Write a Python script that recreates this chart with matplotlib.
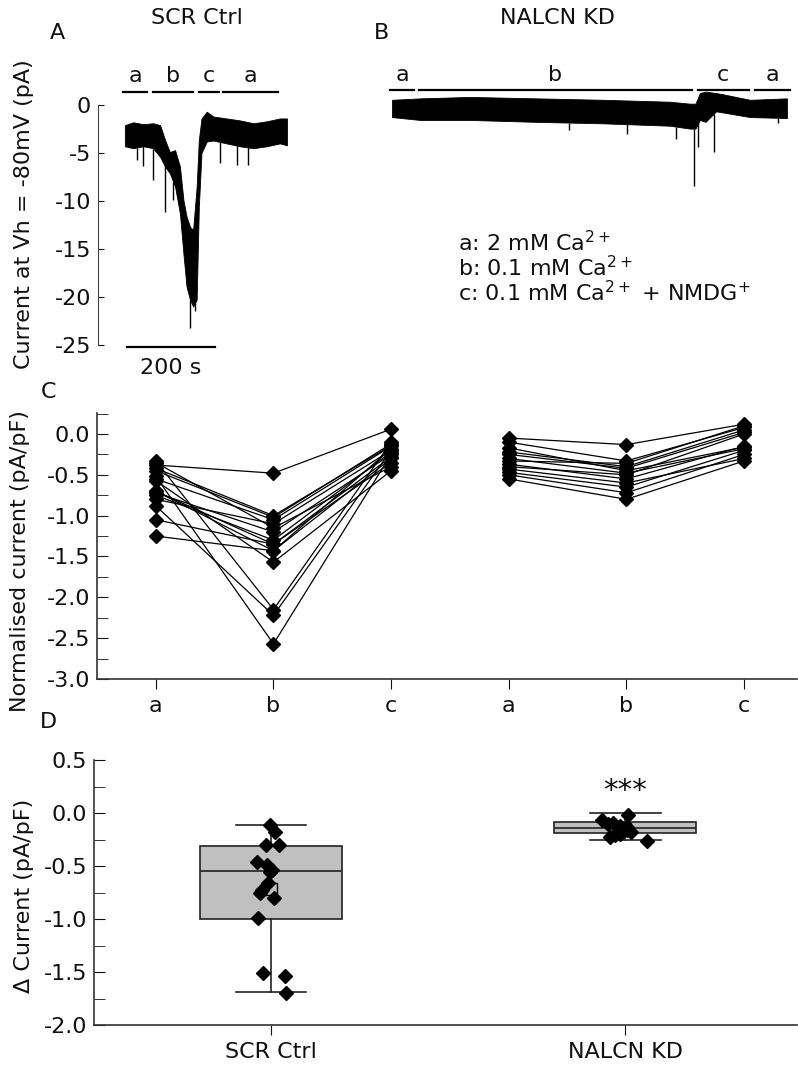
import numpy as np
import matplotlib
matplotlib.use("Agg")
import matplotlib.pyplot as plt
from matplotlib.ticker import MultipleLocator, FormatStrFormatter

plt.rcParams["font.family"] = ["DejaVu Sans"]
plt.rcParams["axes.unicode_minus"] = False
plt.rcParams["mathtext.default"] = "regular"

# ---- panel A: SCR Ctrl trace (envelope, pA vs s) ----
a_t = [0, 19, 42, 64, 80, 91, 102, 114, 125, 133, 140, 148, 155, 163, 168,
       174, 186, 201, 231, 261, 292, 322, 352, 368]
a_upper = [-2.1, -1.8, -2.0, -1.9, -2.1, -3.6, -4.9, -4.7, -6.4, -9.9, -11.6,
           -12.7, -13.0, -8.5, -3.6, -1.4, -0.7, -1.2, -1.4, -1.6, -1.9, -1.7,
           -1.4, -1.4]
a_lower = [-4.3, -4.5, -4.3, -4.5, -5.4, -6.4, -7.1, -8.5, -11.3, -15.5, -18.9,
           -20.3, -21.0, -20.3, -10.6, -5.0, -3.8, -3.7, -4.0, -4.3, -4.5, -4.3,
           -4.0, -4.2]
a_spike_t = [27, 42, 65, 91, 110, 148, 159, 216, 254, 279]
a_spike_v = [-5.7, -6.4, -7.8, -11.1, -9.9, -23.2, -21.5, -6.0, -6.2, -6.2]

# ---- panel B: NALCN KD trace ----
b_t = [0, 64, 177, 330, 480, 632, 677, 690, 700, 713, 737, 750, 814, 898]
b_upper = [-0.5, -0.35, -0.2, -0.35, -0.5, -0.7, -0.9, -0.9, 0.2, 0.35, 0.2,
           0.1, -0.5, -0.35]
b_lower = [-2.3, -2.6, -2.6, -2.8, -2.95, -3.2, -3.5, -3.5, -2.6, -2.8, -1.7,
           -1.8, -2.3, -2.4]
b_spike_t = [402, 534, 646, 686, 696, 732, 877]
b_spike_v = [-3.6, -4.1, -4.6, -9.5, -5.4, -5.9, -2.9]

# solution bars: (label, start, end) in s
a_bars = [("a", -4, 50), ("b", 64, 155), ("c", 168, 214), ("a", 223, 348)]
b_bars = [("a", -4, 50), ("b", 61, 682), ("c", 695, 811), ("a", 825, 905)]

# ---- panel C: normalised current (pA/pF), conditions a, b, c ----
scr_a = [-0.38, -1.25, -1.05, -0.80, -0.72, -0.55, -0.75, -0.45, -0.70,
         -0.70, -0.35, -0.57, -0.33, -0.88, -0.52, -0.42]
scr_b = [-0.48, -1.43, -1.35, -1.10, -1.20, -1.05, -1.30, -1.02, -1.35,
         -1.43, -1.15, -1.57, -2.15, -2.22, -2.57, -1.00]
scr_c = [0.06, -0.30, -0.28, -0.20, -0.25, -0.15, -0.22, -0.12, -0.35,
         -0.18, -0.40, -0.45, -0.10, -0.20, -0.25, -0.14]

kd_a = [-0.05, -0.10, -0.17, -0.22, -0.25, -0.30, -0.33, -0.37, -0.40,
        -0.43, -0.47, -0.50, -0.55]
kd_b = [-0.13, -0.33, -0.45, -0.40, -0.42, -0.48, -0.36, -0.55, -0.50,
        -0.60, -0.65, -0.72, -0.80]
kd_c = [0.12, 0.08, -0.16, 0.05, 0.02, -0.18, 0.10, -0.15, 0.00,
        -0.30, -0.20, -0.25, -0.33]
cond_labels = ["a", "b", "c", "a", "b", "c"]

# ---- panel D: delta current (pA/pF) ----
groups = ["SCR Ctrl", "NALCN KD"]
scr_delta = [-0.11, -0.18, -0.30, -0.30, -0.46, -0.49, -0.54, -0.56, -0.66,
             -0.73, -0.75, -0.80, -0.99, -1.51, -1.54, -1.70]
scr_jitter = [-1, 4, -5, 8, -14, -4, 1, -1, -3, -9, -11, 3, -13, -8, 14, 15]
kd_delta = [-0.02, -0.07, -0.09, -0.10, -0.12, -0.13, -0.15, -0.16, -0.18,
            -0.20, -0.21, -0.23, -0.26]
kd_jitter = [3, -23, -12, -17, -5, 2, -3, 2, 6, -5, -10, -15, 22]
box_med = [-0.55, -0.14]
box_q1 = [-1.00, -0.19]
box_q3 = [-0.31, -0.085]
box_lo = [-1.69, -0.25]
box_hi = [-0.11, 0.00]
box_mean = [-0.72, -0.15]

W, H = 798, 1065
fig = plt.figure(figsize=(W / 100, H / 100), dpi=100)


def px_axes(left, top, right, bottom):
    return fig.add_axes([left / W, 1 - bottom / H, (right - left) / W, (bottom - top) / H])


def px_text(x, y, s, **kw):
    fig.text(x / W, 1 - y / H, s, **kw)


FS = 16
INK = "#111111"

# panel A
axA = px_axes(98, 105, 290, 345)
axA.fill_between(a_t, a_lower, a_upper, color="k", lw=0.6, edgecolor="k")
axA.vlines(a_spike_t, np.interp(a_spike_t, a_t, a_lower), a_spike_v, color="k", lw=1)
axA.set_xlim(-61, 375)
axA.set_ylim(-25, 0)
axA.set_yticks([0, -5, -10, -15, -20, -25])
axA.tick_params(axis="y", direction="in", length=4, labelsize=FS, colors=INK, pad=5)
axA.set_xticks([])
for s in ["top", "right", "bottom"]:
    axA.spines[s].set_visible(False)
axA.spines["left"].set_color("#444444")
for lab, t0, t1 in a_bars:
    axA.plot([t0, t1], [1.35, 1.35], color="k", lw=1.6, clip_on=False)
    axA.text((t0 + t1) / 2, 3.0, lab, ha="center", va="center", fontsize=FS, color=INK)
axA.plot([5, 205], [-25.2, -25.2], color="k", lw=1.6, clip_on=False)
axA.text(105, -27.4, "200 s", ha="center", va="center", fontsize=FS, color=INK)

# panel B
axB = px_axes(385, 95, 790, 335)
axB.fill_between(b_t, b_lower, b_upper, color="k", lw=0.6, edgecolor="k", clip_on=False)
axB.vlines(b_spike_t, np.interp(b_spike_t, b_t, b_lower), b_spike_v, color="k", lw=1,
           clip_on=False)
axB.set_xlim(-16, 905)
axB.set_ylim(-25, 0)
axB.axis("off")
for lab, t0, t1 in b_bars:
    axB.plot([t0, t1], [0.52, 0.52], color="k", lw=1.6, clip_on=False)
    axB.text((t0 + t1) / 2, 2.1, lab, ha="center", va="center", fontsize=FS, color=INK)

px_text(458, 243, "a: 2 mM Ca$^{2+}$", fontsize=FS, va="center", color=INK)
px_text(458, 268, "b: 0.1 mM Ca$^{2+}$", fontsize=FS, va="center", color=INK)
px_text(458, 293, "c: 0.1 mM Ca$^{2+}$ + NMDG$^{+}$", fontsize=FS, va="center", color=INK)

# panel C
axC = px_axes(97, 413, 797, 679)
for va, vb, vc in zip(scr_a, scr_b, scr_c):
    axC.plot([0, 1, 2], [va, vb, vc], color="k", lw=0.9, marker="D", ms=6.8,
             mfc="k", mec="k", clip_on=False)
for va, vb, vc in zip(kd_a, kd_b, kd_c):
    axC.plot([3, 4, 5], [va, vb, vc], color="k", lw=0.9, marker="D", ms=6.8,
             mfc="k", mec="k", clip_on=False)
axC.set_xlim(-0.5, 5.45)
axC.set_ylim(-3.0, 0.257)
axC.set_xticks(range(6))
axC.set_xticklabels(cond_labels)
axC.yaxis.set_major_locator(MultipleLocator(0.5))
axC.yaxis.set_minor_locator(MultipleLocator(0.25))
axC.yaxis.set_major_formatter(FormatStrFormatter("%.1f"))
axC.tick_params(axis="y", which="both", direction="in", length=8, labelsize=FS,
                colors=INK, pad=5)
axC.tick_params(axis="x", direction="out", length=7, labelsize=FS, colors=INK, pad=5)
for s in ["top", "right"]:
    axC.spines[s].set_visible(False)
for s in ["left", "bottom"]:
    axC.spines[s].set_color("#333333")
    axC.spines[s].set_linewidth(1.2)

# panel D
axD = px_axes(94, 760, 797, 1025)
stats = []
for i in range(2):
    stats.append(dict(med=box_med[i], q1=box_q1[i], q3=box_q3[i], whislo=box_lo[i],
                      whishi=box_hi[i], mean=box_mean[i], fliers=[]))
axD.bxp(stats, positions=[0, 1], widths=0.4, capwidths=0.2, patch_artist=True,
        showmeans=True,
        boxprops=dict(facecolor="#c0c0c0", edgecolor="#222222", lw=1.2),
        medianprops=dict(color="#222222", lw=1.2),
        whiskerprops=dict(color="#222222", lw=1.2),
        capprops=dict(color="#222222", lw=1.2),
        meanprops=dict(marker="s", mfc="none", mec="k", ms=9, mew=1.0))
xs = 354.0
axD.plot([0 + j / xs for j in scr_jitter], scr_delta, ls="none", marker="D", ms=7,
         color="k", zorder=5)
axD.plot([1 + j / xs for j in kd_jitter], kd_delta, ls="none", marker="D", ms=7,
         color="k", zorder=5)
axD.text(1, 0.21, "***", ha="center", va="center", fontsize=21, color=INK)
axD.set_xlim(-0.5, 1.485)
axD.set_ylim(-2.0, 0.5)
axD.set_xticks([0, 1])
axD.set_xticklabels(groups)
axD.yaxis.set_major_locator(MultipleLocator(0.5))
axD.yaxis.set_minor_locator(MultipleLocator(0.25))
axD.yaxis.set_major_formatter(FormatStrFormatter("%.1f"))
axD.tick_params(axis="y", which="both", direction="in", length=8, labelsize=FS,
                colors=INK, pad=5)
axD.tick_params(axis="x", direction="out", length=7, labelsize=FS, colors=INK, pad=5)
for s in ["top", "right"]:
    axD.spines[s].set_visible(False)
for s in ["left", "bottom"]:
    axD.spines[s].set_color("#333333")
    axD.spines[s].set_linewidth(1.2)

# titles, panel letters, y labels
px_text(197, 18, "SCR Ctrl", fontsize=FS, ha="center", va="center", color=INK)
px_text(557, 18, "NALCN KD", fontsize=FS, ha="center", va="center", color=INK)
for lab, x, y in [("A", 57, 33), ("B", 382, 33), ("C", 48, 392), ("D", 48, 722)]:
    px_text(x, y, lab, fontsize=FS, ha="center", va="center", color=INK)
px_text(24, 214, "Current at Vh = -80mV (pA)", fontsize=FS, rotation=90,
        ha="center", va="center", color=INK)
px_text(20, 561, "Normalised current (pA/pF)", fontsize=FS, rotation=90,
        ha="center", va="center", color=INK)
px_text(24, 896, "\u0394 Current (pA/pF)", fontsize=FS, rotation=90,
        ha="center", va="center", color=INK)

fig.savefig("out.png", dpi=100)
